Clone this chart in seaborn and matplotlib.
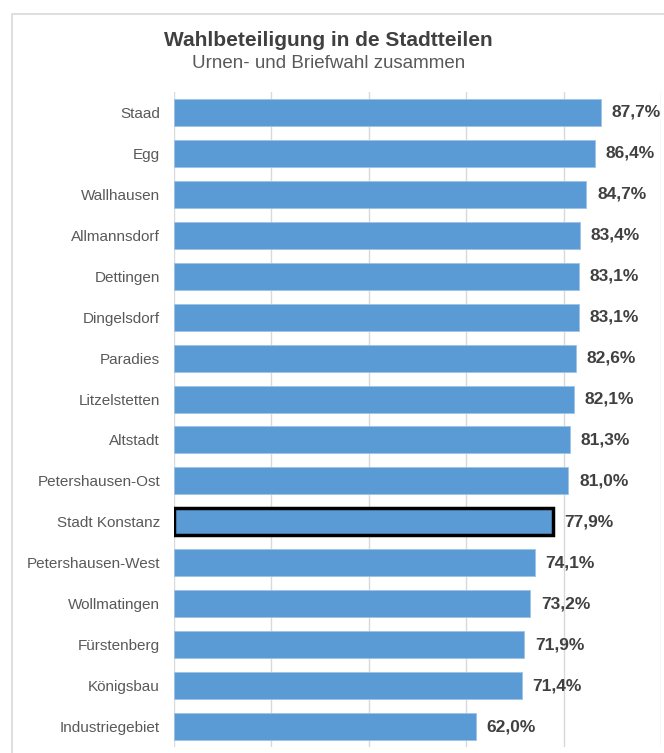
import matplotlib
matplotlib.use("Agg")
import matplotlib.pyplot as plt
import seaborn as sns
import pandas as pd
from matplotlib.patches import Rectangle

sns.set_theme(style="white")
plt.rcParams['font.family'] = ['Liberation Sans', 'DejaVu Sans']

# Data
districts = ['Staad', 'Egg', 'Wallhausen', 'Allmannsdorf', 'Dettingen', 'Dingelsdorf',
             'Paradies', 'Litzelstetten', 'Altstadt', 'Petershausen-Ost', 'Stadt Konstanz',
             'Petershausen-West', 'Wollmatingen', 'Fürstenberg', 'Königsbau', 'Industriegebiet']
turnout = [87.7, 86.4, 84.7, 83.4, 83.1, 83.1, 82.6, 82.1, 81.3, 81.0, 77.9,
           74.1, 73.2, 71.9, 71.4, 62.0]
highlight = 'Stadt Konstanz'

BAR_COLOR = '#5B9BD5'
TEXT_COLOR = '#404040'
LABEL_COLOR = '#595959'
GRID_COLOR = '#D9D9D9'

df = pd.DataFrame({'district': districts, 'turnout': turnout})

fig = plt.figure(figsize=(6.64, 7.53), dpi=100)
ax = fig.add_axes([174 / 664, 1 - 747 / 753, 487 / 664, (747 - 92) / 753])

sns.barplot(data=df, y='district', x='turnout', orient='h', color=BAR_COLOR,
            width=0.66, saturation=1, ax=ax)

for bar, name, val in zip(ax.patches, districts, turnout):
    bar.set_edgecolor('#9DC3E6')
    bar.set_linewidth(0.6)
    if name == highlight:
        bar.set_edgecolor('black')
        bar.set_linewidth(2.5)
    ax.text(bar.get_width() + 2.2, bar.get_y() + bar.get_height() / 2,
            f"{val:.1f}%".replace('.', ','), va='center', ha='left',
            fontsize=12.5, fontweight='bold', color=TEXT_COLOR)

ax.set_xlim(0, 100)
ax.set_xticks([0, 20, 40, 60, 80, 100])
ax.set_xticklabels([])
ax.tick_params(axis='both', length=0)
ax.tick_params(axis='y', labelsize=11, labelcolor=LABEL_COLOR, pad=10)
ax.xaxis.grid(True, color=GRID_COLOR, linewidth=1)
ax.set_axisbelow(True)
for s in ax.spines.values():
    s.set_visible(False)
ax.set_xlabel('')
ax.set_ylabel('')

# chart frame
fig.patches.append(Rectangle((12 / 664, -0.02), 1.0, 1 - 14 / 753 + 0.02,
                             transform=fig.transFigure, fill=False,
                             edgecolor=GRID_COLOR, linewidth=1.2, zorder=0))

fig.text(0.495, 1 - 40 / 753, 'Wahlbeteiligung in de Stadtteilen', ha='center', va='center',
         fontsize=15, fontweight='bold', color=TEXT_COLOR)
fig.text(0.495, 1 - 63 / 753, 'Urnen- und Briefwahl zusammen', ha='center', va='center',
         fontsize=13.5, color=LABEL_COLOR)

fig.savefig('out.png', dpi=100)
